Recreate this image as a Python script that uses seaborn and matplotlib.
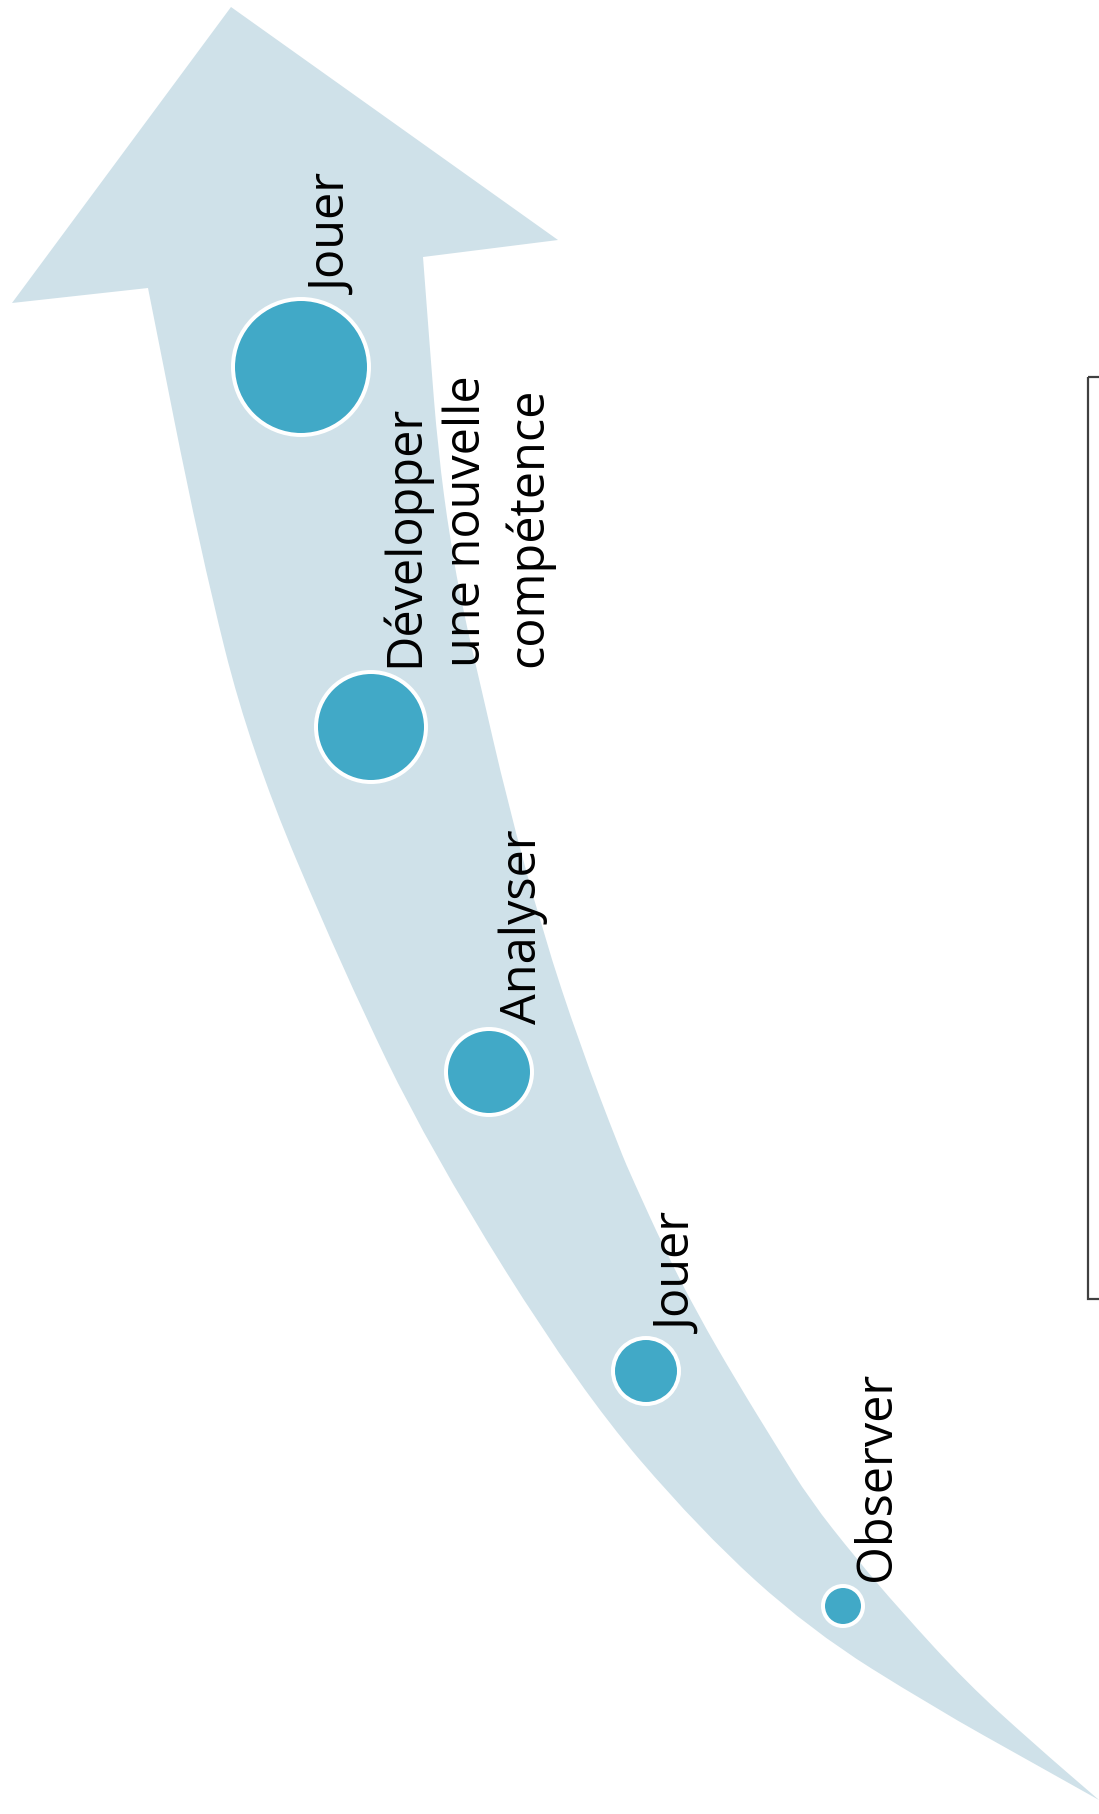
import matplotlib
matplotlib.use('Agg')
import matplotlib.pyplot as plt
from matplotlib.patches import Rectangle, PathPatch
from matplotlib.path import Path
import pandas as pd
import seaborn as sns

# étapes, du bas vers le haut de la flèche
stages = ['Observer', 'Jouer', 'Analyser',
          'Développer\nune nouvelle\ncompétence', 'Jouer']
stage_x = [843, 646, 489, 371, 301]
stage_y = [1606, 1371, 1072, 727, 367]
stage_r = [20, 33, 43, 55, 68]  # rayon des cercles (px)

# contour de la flèche (repère pixel, y vers le bas)
head_x = [231, 558, 423]
head_y = [7, 240, 257]
right_x = [423, 430, 438, 450, 463, 480, 507, 543, 580, 620, 633, 665, 697, 737, 777,
           810, 855, 900, 967, 1033, 1099]
right_y = [257, 350, 450, 540, 610, 683, 800, 933, 1045, 1150, 1180, 1250, 1313, 1382, 1447,
           1500, 1557, 1610, 1683, 1743, 1800]
left_x = [1099, 1033, 933, 810, 700, 580, 430, 343, 250, 200, 148]
left_y = [1800, 1763, 1707, 1630, 1530, 1390, 1150, 970, 750, 550, 288]
barb_x = [12]
barb_y = [303]

ARROW = '#cfe1e9'
DOT = '#41a9c7'
FS = 35


def smooth_edge(xs, ys):
    # courbe lisse guidée par les points du contour
    pts = list(zip(xs, ys))
    verts = [pts[0]]
    codes = [Path.LINETO]
    for i in range(1, len(pts) - 1):
        mid = ((pts[i][0] + pts[i + 1][0]) / 2, (pts[i][1] + pts[i + 1][1]) / 2)
        verts += [pts[i], mid]
        codes += [Path.CURVE3, Path.CURVE3]
    verts.append(pts[-1])
    codes.append(Path.LINETO)
    return verts, codes


sns.set_theme(style='white')
plt.rcParams['font.family'] = ['Open Sans', 'DejaVu Sans']

W, H = 1099, 1814
fig = plt.figure(figsize=(W / 100, H / 100), dpi=100)
ax = fig.add_axes([0, 0, 1, 1])

verts = list(zip(head_x, head_y))
codes = [Path.MOVETO, Path.LINETO, Path.LINETO]
v, c = smooth_edge(right_x, right_y)
verts += v
codes += c
v, c = smooth_edge(left_x, left_y)
verts += v
codes += c
verts += list(zip(barb_x, barb_y)) + [(head_x[0], head_y[0])]
codes += [Path.LINETO, Path.CLOSEPOLY]
ax.add_patch(PathPatch(Path(verts, codes), facecolor=ARROW, lw=0, zorder=1))

df = pd.DataFrame({'stage': stages, 'x': stage_x, 'y': stage_y, 'r': stage_r})
df['area'] = (2 * df['r'] * 0.72) ** 2
edge_px = 4
sns.scatterplot(data=df, x='x', y='y', size='area',
                sizes=(df['area'].min(), df['area'].max()),
                size_norm=(df['area'].min(), df['area'].max()),
                color=DOT, edgecolor='white', linewidth=edge_px * 0.72,
                legend=False, ax=ax, zorder=3)
ax.set_xlim(0, W)
ax.set_ylim(H, 0)
ax.axis('off')

fs_px = FS * 100 / 72
for _, row in df.iterrows():
    outer = row['r'] + edge_px / 2
    # première ligne : ligne de base à x + 46 px
    ax.text(row['x'] + 46 - 0.76 * fs_px, row['y'] - outer - 3, row['stage'],
            rotation=90, rotation_mode='anchor', ha='left', va='top',
            multialignment='left', fontsize=FS, color='black',
            linespacing=1.31, zorder=4)

# cadre à droite
ax.add_patch(Rectangle((1088, 377), 40, 1299 - 377, fill=False,
                       edgecolor='#404040', lw=1.6, zorder=2, clip_on=True))

fig.savefig('out.png', dpi=100)
